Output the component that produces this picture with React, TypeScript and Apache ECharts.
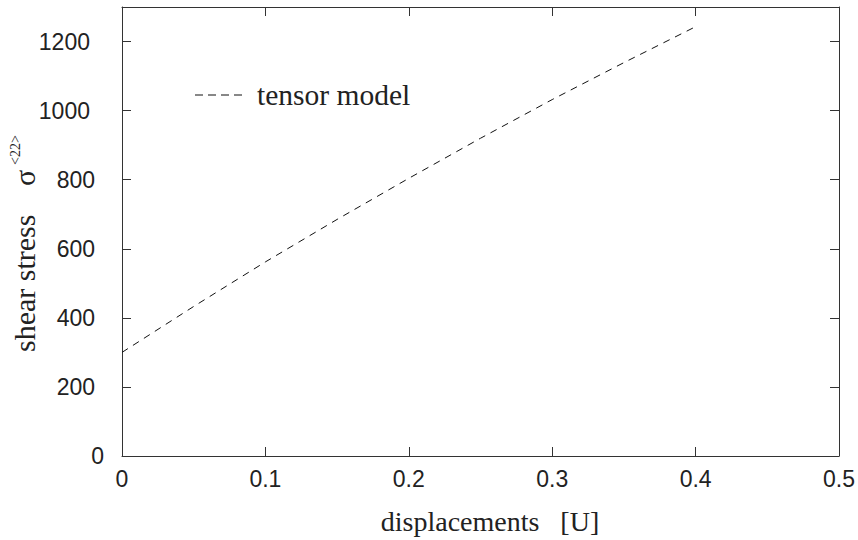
import React, { useEffect, useRef } from "react";
import * as echarts from "echarts";

const xValues = [0, 0.05, 0.1, 0.15, 0.2, 0.25, 0.3, 0.35, 0.4];
const stressValues = [300, 433, 562, 685, 804, 920, 1032, 1139, 1243];
const seriesName = "tensor model";
const xTitle = "displacements   [U]";
const yTitleMain = "shear stress";
const ySymbol = "σ";
const ySup = "<22>";

const SANS = "Liberation Sans, Arial, sans-serif";
const SERIF = "Liberation Serif, Times New Roman, serif";
const AX = "#333";
const TICK_FS = 23;

export default function App() {
  const ref = useRef<HTMLDivElement>(null);
  useEffect(() => {
    if (!ref.current) return;
    const chart = echarts.init(ref.current, null, { renderer: "svg" });
    const data = xValues.map((x, i) => [x, stressValues[i]]);
    const axisLineStyle = { show: true, onZero: false, lineStyle: { color: AX, width: 1 } };
    const tickStyle = { show: true, inside: true, length: 9, lineStyle: { color: AX, width: 1 } };
    chart.setOption({
      animation: false,
      backgroundColor: "#fff",
      grid: { left: 122, right: 18, top: 7, bottom: 84 },
      xAxis: [
        {
          type: "value", min: 0, max: 0.5, interval: 0.1,
          axisLine: axisLineStyle, axisTick: tickStyle, splitLine: { show: false },
          axisLabel: { margin: 11, fontFamily: SANS, fontSize: TICK_FS, color: "#222", formatter: (v: number) => String(+v.toFixed(1)) },
        },
        {
          type: "value", position: "top", min: 0, max: 0.5, interval: 0.1,
          axisLine: axisLineStyle, axisTick: tickStyle, splitLine: { show: false }, axisLabel: { show: false },
        },
      ],
      yAxis: [
        {
          type: "value", min: 0, max: 1300, interval: 200,
          axisLine: axisLineStyle, axisTick: tickStyle, splitLine: { show: false },
          axisLabel: {
            margin: 18, fontFamily: SANS, fontSize: TICK_FS, color: "#222", showMaxLabel: false,
            formatter: (v: number) => {
              const s = String(v);
              if (s.length >= 4) return `{a|${s}}`;
              if (s.length === 3) return `{b|${s}}`;
              return `{c|${s}}`;
            },
            rich: {
              a: { fontFamily: SANS, fontSize: TICK_FS, color: "#222", padding: [0, 14, 0, 0] },
              b: { fontFamily: SANS, fontSize: TICK_FS, color: "#222", padding: [0, 9, 0, 0] },
              c: { fontFamily: SANS, fontSize: TICK_FS, color: "#222", padding: [0, 0, 0, 0] },
            },
          },
        },
        {
          type: "value", position: "right", min: 0, max: 1300, interval: 200,
          axisLine: axisLineStyle, axisTick: tickStyle, splitLine: { show: false }, axisLabel: { show: false },
        },
      ],
      series: [
        {
          name: seriesName, type: "line", data, showSymbol: false, symbol: "none",
          lineStyle: { color: "#111", width: 1, type: [7, 6] },
        },
      ],
      graphic: [
        {
          type: "line", shape: { x1: 195, y1: 95, x2: 244, y2: 95 },
          style: { stroke: "#111", lineWidth: 1, lineDash: [8, 5] },
        },
        {
          type: "text", x: 257, y: 95,
          style: { text: seriesName, fontFamily: SERIF, fontSize: 29.5, fill: "#222", textVerticalAlign: "middle", textAlign: "left" },
        },
        {
          type: "text", x: 490, y: 521,
          style: { text: xTitle, fontFamily: SERIF, fontSize: 28, fill: "#222", textAlign: "center", textVerticalAlign: "middle" },
        },
        {
          type: "group", x: 24, y: 352, rotation: Math.PI / 2,
          children: [
            {
              type: "text", x: 0, y: 0,
              style: { text: yTitleMain, fontFamily: SERIF, fontSize: 30, fill: "#222", textAlign: "left", textVerticalAlign: "middle" },
            },
            {
              type: "text", x: 166, y: 0,
              style: { text: ySymbol, fontFamily: SERIF, fontSize: 30, fill: "#222", textAlign: "left", textVerticalAlign: "middle" },
            },
            {
              type: "text", x: 187, y: -9,
              style: { text: ySup, fontFamily: SERIF, fontSize: 14, fill: "#222", textAlign: "left", textVerticalAlign: "middle" },
            },
          ],
        },
      ],
    });
    return () => chart.dispose();
  }, []);
  return <div ref={ref} style={{ width: 858, height: 540, position: "absolute", left: 0, top: 0 }} />;
}
